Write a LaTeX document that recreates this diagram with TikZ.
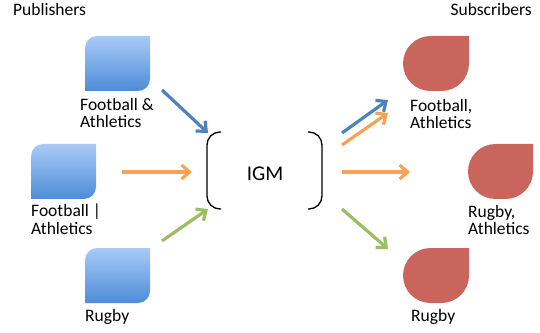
\documentclass[tikz,border=0pt]{standalone}
\usepackage{fontspec}
\setmainfont{Carlito}
\usepackage{tikz}
\usetikzlibrary{arrows.meta}
\definecolor{pubtop}{RGB}{168,203,247}
\definecolor{pubbot}{RGB}{78,140,216}
\definecolor{subred}{RGB}{201,101,92}
\definecolor{flowblue}{RGB}{79,129,189}
\definecolor{floworange}{RGB}{247,163,85}
\definecolor{flowgreen}{RGB}{155,190,95}

\begin{document}
\begin{tikzpicture}[x=1pt,y=1pt,
	lbl/.style={inner sep=0pt,align=left,font=\fontsize{17.5}{17.5}\selectfont},
	flow/.style={line width=3.2pt,-{Straight Barb[length=8pt,width=14pt]}},
	pub/.style={top color=pubtop,bottom color=pubbot},
	brace/.style={line width=1.3pt,rounded corners=13pt}]
		\useasboundingbox (0,0) rectangle (540,332);

		%% Titles
		\node[lbl,anchor=base west] (publishers) at (13,316) {Publishers};
		\node[lbl,anchor=base east] (subscribers) at (532,316) {Subscribers};

		%% Publishers
		\shade[pub] (85,241) -- (138,241) arc[start angle=-90,end angle=0,radius=12] -- (150,296) -- (97,296) arc[start angle=90,end angle=180,radius=12] -- cycle;
		\shade[pub] (31,133) -- (84,133) arc[start angle=-90,end angle=0,radius=12] -- (96,188) -- (43,188) arc[start angle=90,end angle=180,radius=12] -- cycle;
		\shade[pub] (85,29) -- (138,29) arc[start angle=-90,end angle=0,radius=12] -- (150,84) -- (97,84) arc[start angle=90,end angle=180,radius=12] -- cycle;
		\node[lbl,anchor=north west] (pubA) at (80,234) {Football \&\\Athletics};
		\node[lbl,anchor=north west] (pubB) at (31,128) {Football |\\Athletics};
		\node[lbl,anchor=base west] (pubC) at (85,11) {Rugby};

		%% Subscribers
		\fill[subred] (469,296) -- (469,268.5) arc[start angle=0,end angle=-90,radius=27.5] -- (430.5,241) arc[start angle=270,end angle=90,radius=27.5] -- cycle;
		\fill[subred] (533,188) -- (533,160.5) arc[start angle=0,end angle=-90,radius=27.5] -- (495.5,133) arc[start angle=270,end angle=90,radius=27.5] -- cycle;
		\fill[subred] (469,84) -- (469,56.5) arc[start angle=0,end angle=-90,radius=27.5] -- (430.5,29) arc[start angle=270,end angle=90,radius=27.5] -- cycle;
		\node[lbl,anchor=north west] (subA) at (410,233) {Football,\\Athletics};
		\node[lbl,anchor=north west] (subB) at (468,127) {Rugby,\\Athletics};
		\node[lbl,anchor=base west] (subC) at (411,11) {Rugby};

		%% IGM
		\draw[brace] (221,200) -- (207,200) -- (207,123) -- (221,123);
		\draw[brace] (308,200) -- (322,200) -- (322,123) -- (308,123);
		\node[inner sep=0pt,font=\fontsize{21}{21}\selectfont] (igm) at (265,158.5) {IGM};

		%% Flows in
		\coordinate (inA0) at (162,242);   \coordinate (inA1) at (208,199);
		\coordinate (inB0) at (122,160);   \coordinate (inB1) at (192,160);
		\coordinate (inC0) at (162,91);    \coordinate (inC1) at (208,123);
		\draw[flow,flowblue] (inA0) -- (inA1);
		\draw[flow,floworange] (inB0) -- (inB1);
		\draw[flow,flowgreen] (inC0) -- (inC1);

		%% Flows out
		\coordinate (outA0) at (342,199);  \coordinate (outA1) at (388,232);
		\coordinate (outB0) at (342,187);  \coordinate (outB1) at (388,219);
		\coordinate (outC0) at (342,160);  \coordinate (outC1) at (410,160);
		\coordinate (outD0) at (342,123);  \coordinate (outD1) at (388,83);
		\draw[flow,flowblue] (outA0) -- (outA1);
		\draw[flow,floworange] (outB0) -- (outB1);
		\draw[flow,floworange] (outC0) -- (outC1);
		\draw[flow,flowgreen] (outD0) -- (outD1);
	\end{tikzpicture}
\end{document}
